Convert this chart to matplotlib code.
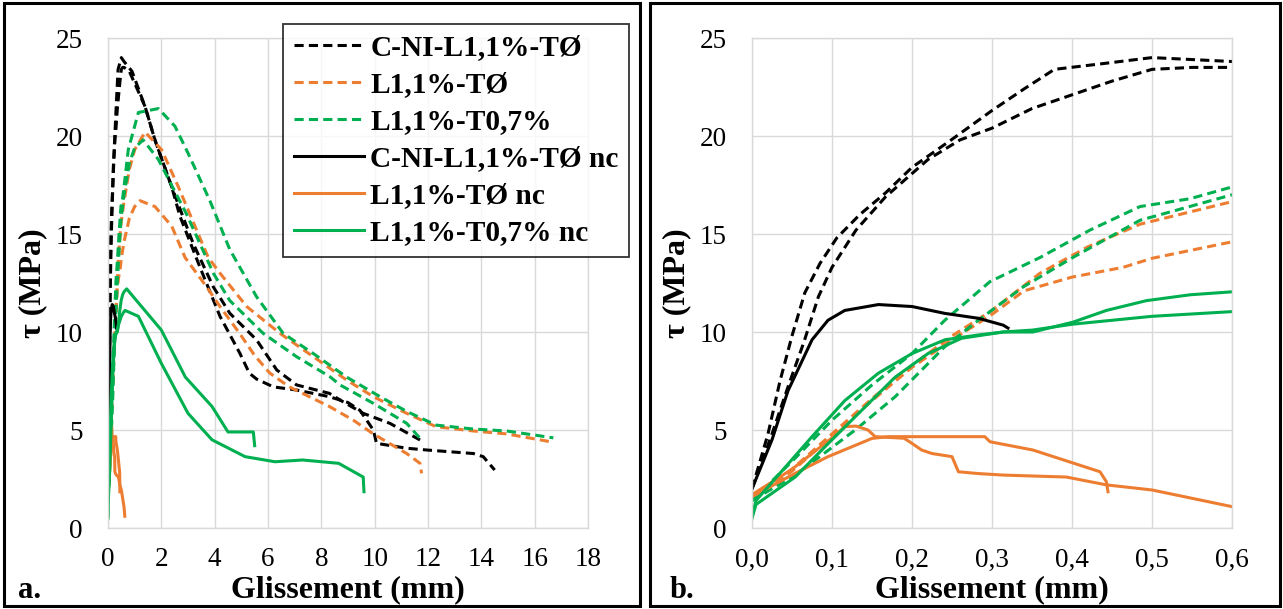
import matplotlib
matplotlib.use("Agg")
import matplotlib.pyplot as plt
from matplotlib.patches import Rectangle
from matplotlib.lines import Line2D

# ---------------- data (slip in mm, bond stress in MPa) ----------------
cni_a_x = [0, 0.02, 0.035, 0.05, 0.066, 0.085, 0.106, 0.135, 0.167, 0.2, 0.249, 0.3, 0.34, 0.378, 0.44, 0.5,
           0.55, 0.6, 0.9, 1.39, 1.76, 2.39, 2.7, 3.45, 4.2, 4.95, 5.3, 5.57, 6.2, 7.07, 8.3, 9.0, 9.45, 9.95,
           10.07, 11.2, 11.95, 13.7, 14.07, 14.5]
cni_a_y = [2.0, 4.8, 7.5, 9.8, 12.0, 13.5, 14.8, 16.0, 17.1, 18.4, 19.8, 21.3, 22.4, 23.4, 23.7, 24.0,
           23.9, 23.8, 23.3, 21.5, 19.8, 17.4, 15.9, 13.3, 10.8, 8.9, 7.9, 7.6, 7.2, 7.04, 6.7, 6.4, 6.0, 5.0,
           4.32, 4.07, 3.98, 3.8, 3.64, 2.96]

cni_b_x = [0, 0.025, 0.045, 0.065, 0.083, 0.1, 0.13, 0.167, 0.22, 0.26, 0.3, 0.35, 0.4, 0.45, 0.5, 0.55, 0.6,
           0.8, 1.39, 1.76, 2.39, 3.0, 3.2, 3.95, 4.57, 5.57, 6.33, 7.07, 8.3, 8.7, 9.57, 10.57, 11.7]
cni_b_y = [2.0, 4.8, 7.2, 9.5, 11.8, 13.3, 15.2, 16.9, 18.8, 19.8, 20.4, 21.4, 22.1, 22.8, 23.4, 23.5, 23.5,
           23.3, 21.5, 19.8, 17.4, 15.2, 14.5, 12.3, 10.95, 9.6, 8.06, 7.3, 6.87, 6.53, 5.85, 5.34, 4.49]

tphi_a_x = [0, 0.05, 0.1, 0.15, 0.2, 0.25, 0.3, 0.36, 0.42, 0.485, 0.6, 0.8, 1.0, 1.39, 2.01, 2.64, 3.26,
            3.76, 4.2, 5.2, 6.45, 7.7, 8.95, 9.95, 11.2, 12.3, 13.7, 14.95, 16.6]
tphi_a_y = [1.5, 3.0, 4.8, 6.6, 8.3, 9.8, 11.1, 13.0, 14.35, 15.5, 16.65, 18.3, 19.3, 20.2, 19.3, 17.4, 15.4,
            13.8, 13.0, 11.3, 9.93, 8.74, 7.55, 6.7, 5.85, 5.17, 4.95, 4.8, 4.4]

tphi_b_x = [0, 0.05, 0.1, 0.15, 0.2, 0.25, 0.3, 0.34, 0.4, 0.464, 0.5, 0.6, 0.8, 1.0, 1.2, 1.76, 2.39, 2.89,
            3.7, 4.2, 4.95, 5.5, 6.07, 6.8, 8.3, 9.2, 9.95, 11.2, 11.7, 11.76]
tphi_b_y = [1.5, 2.9, 4.7, 6.5, 8.2, 9.6, 10.9, 12.1, 12.8, 13.3, 13.76, 14.6, 15.8, 16.4, 16.7, 16.4, 15.4,
            13.8, 12.3, 11.3, 9.9, 8.8, 7.9, 7.2, 6.2, 5.5, 4.8, 3.8, 3.3, 2.79]

t07_a_x = [0, 0.05, 0.1, 0.15, 0.2, 0.241, 0.2975, 0.36, 0.4225, 0.485, 0.5475, 0.6, 0.76, 1.14, 1.89, 2.51,
           3.01, 3.82, 4.57, 5.57, 6.57, 7.7, 8.95, 10.2, 11.2, 12.3, 13.7, 14.95, 16.7]
t07_a_y = [1.4, 3.4, 5.5, 7.3, 8.9, 10.6, 12.57, 13.8, 15.2, 16.4, 16.8, 17.4, 19.3, 21.2, 21.4, 20.5,
           19.1, 16.7, 14.2, 11.8, 9.93, 8.9, 7.7, 6.7, 5.95, 5.25, 5.05, 4.95, 4.6]

t07_b_x = [0, 0.054, 0.129, 0.179, 0.241, 0.283, 0.316, 0.339, 0.401, 0.485, 0.6, 0.8, 1.0, 1.32, 1.89,
           2.95, 3.95, 4.57, 5.82, 7.07, 8.32, 8.7, 9.95, 11.2, 11.76]
t07_b_y = [1.4, 2.7, 5.0, 6.7, 9.25, 10.6, 11.6, 12.3, 13.8, 15.7, 17.0, 18.6, 19.4, 19.8, 18.8,
           16.0, 13.0, 11.6, 9.93, 8.74, 7.72, 7.3, 6.36, 5.34, 4.49]

cni_nc_x = [0, 0.025, 0.045, 0.075, 0.095, 0.116, 0.158, 0.2, 0.241, 0.283, 0.314, 0.32]
cni_nc_y = [2.0, 4.5, 7.0, 9.6, 10.6, 11.1, 11.4, 11.3, 10.95, 10.7, 10.35, 10.2]

tphi_nc_a_x = [0, 0.05, 0.1, 0.116, 0.13, 0.145, 0.154, 0.19, 0.197, 0.212, 0.225, 0.25, 0.258, 0.282,
               0.314, 0.393, 0.443, 0.5, 0.6, 0.63]
tphi_nc_a_y = [1.7, 3.0, 4.6, 5.17, 5.2, 5.0, 4.66, 4.58, 4.4, 3.98, 3.8, 3.64, 2.87, 2.78,
               2.7, 2.6, 2.2, 1.94, 1.09, 0.6]

tphi_nc_b_x = [0, 0.054, 0.095, 0.15, 0.17, 0.291, 0.2975, 0.351, 0.435, 0.443, 0.445]
tphi_nc_b_y = [1.6, 2.79, 3.64, 4.57, 4.66, 4.66, 4.4, 3.98, 2.87, 2.36, 1.85]

t07_nc_a_x = [0, 0.005, 0.075, 0.116, 0.158, 0.2, 0.241, 0.283, 0.314, 0.351, 0.401, 0.443, 0.493, 0.548,
              0.6, 0.7, 2.0, 2.9, 3.9, 4.5, 5.45, 5.5]
t07_nc_a_y = [0.6, 1.4, 4.66, 6.5, 7.9, 8.9, 9.6, 9.85, 10.0, 10.0, 10.5, 11.1, 11.6, 11.9,
              12.05, 12.2, 10.1, 7.7, 6.2, 4.9, 4.9, 4.2]

t07_nc_b_x = [0, 0.005, 0.054, 0.095, 0.137, 0.179, 0.22, 0.262, 0.314, 0.351, 0.401, 0.5, 0.6, 0.64,
              1.14, 2.0, 3.0, 3.9, 5.14, 6.26, 7.3, 8.65, 9.57, 9.6]
t07_nc_b_y = [0.5, 1.2, 2.6, 4.3, 6.0, 7.7, 8.9, 9.68, 10.0, 10.1, 10.4, 10.8, 11.04, 11.1,
              10.8, 8.4, 5.85, 4.5, 3.64, 3.38, 3.47, 3.3, 2.6, 1.85]

labels = ["C-NI-L1,1%-TØ", "L1,1%-TØ", "L1,1%-T0,7%",
          "C-NI-L1,1%-TØ nc", "L1,1%-TØ nc", "L1,1%-T0,7% nc"]

left_xticks = [0, 2, 4, 6, 8, 10, 12, 14, 16, 18]
right_xticks = [0.0, 0.1, 0.2, 0.3, 0.4, 0.5, 0.6]
right_xticklabels = ["0,0", "0,1", "0,2", "0,3", "0,4", "0,5", "0,6"]
yticks = [0, 5, 10, 15, 20, 25]

# ---------------- styling ----------------
BLACK = "#000000"
ORANGE = "#ED7D31"
GREEN = "#00B050"
LW = 2.2
DASH = (3.0, 1.7)
SERIF = ["Liberation Serif", "DejaVu Serif"]
plt.rcParams["font.family"] = SERIF

series = [
    (cni_a_x, cni_a_y, BLACK, True),
    (cni_b_x, cni_b_y, BLACK, True),
    (tphi_a_x, tphi_a_y, ORANGE, True),
    (tphi_b_x, tphi_b_y, ORANGE, True),
    (t07_a_x, t07_a_y, GREEN, True),
    (t07_b_x, t07_b_y, GREEN, True),
    (cni_nc_x, cni_nc_y, BLACK, False),
    (tphi_nc_a_x, tphi_nc_a_y, ORANGE, False),
    (tphi_nc_b_x, tphi_nc_b_y, ORANGE, False),
    (t07_nc_a_x, t07_nc_a_y, GREEN, False),
    (t07_nc_b_x, t07_nc_b_y, GREEN, False),
]

W, H = 1283, 609
fig = plt.figure(figsize=(W / 100, H / 100), dpi=100)

axL = fig.add_axes([108 / W, 1 - 528 / H, 480 / W, 490 / H])
axR = fig.add_axes([752 / W, 1 - 528 / H, 480 / W, 490 / H])

GRID = "#d9d9d9"
for ax in (axL, axR):
    for x, y, c, dashed in series:
        kw = dict(color=c, lw=LW, solid_joinstyle="round", dash_capstyle="butt")
        if dashed:
            kw["linestyle"] = (0, DASH)
        ax.plot(x, y, **kw)
    ax.set_ylim(0, 25)
    ax.set_yticks(yticks)
    ax.grid(True, color=GRID, lw=1.0)
    ax.set_axisbelow(True)
    for s in ax.spines.values():
        s.set_color(GRID)
        s.set_linewidth(1.0)
    ax.tick_params(length=0, labelsize=19.5, pad=18)
    ax.tick_params(axis="x", pad=14)
    ax.set_xlabel("Glissement (mm)", fontsize=23, fontweight="bold", labelpad=2)
    ax.set_ylabel("τ (MPa)", fontsize=23, fontweight="bold", labelpad=6)

axL.set_xlim(0, 18)
axL.set_xticks(left_xticks)
axR.set_xlim(0, 0.6)
axR.set_xticks(right_xticks)
axR.set_xticklabels(right_xticklabels)

# legend
handles = []
for c, ls in [(BLACK, (0, DASH)), (ORANGE, (0, DASH)), (GREEN, (0, DASH)),
              (BLACK, "-"), (ORANGE, "-"), (GREEN, "-")]:
    handles.append(Line2D([], [], color=c, lw=LW, linestyle=ls))
leg = fig.legend(handles, labels, loc="upper right", bbox_to_anchor=(629 / W, 1 - 24 / H),
                 bbox_transform=fig.transFigure, frameon=True, fancybox=False,
                 prop={"family": SERIF, "weight": "bold", "size": 21.2},
                 handlelength=2.4, handletextpad=0.2, labelspacing=0.34,
                 borderpad=0.35, borderaxespad=0)
leg.get_frame().set_edgecolor("black")
leg.get_frame().set_linewidth(1.3)

# panel letters
fig.text(18 / W, 1 - 590 / H, "a.", fontsize=22, fontweight="bold", va="center", ha="left")
fig.text(670 / W, 1 - 590 / H, "b.", fontsize=22, fontweight="bold", va="center", ha="left")

# panel frames
for x0, x1 in [(4, 640), (650, 1280)]:
    fig.add_artist(Rectangle((x0 / W, 3 / H), (x1 - x0) / W, (H - 6) / H,
                             transform=fig.transFigure, fill=False, edgecolor="black", lw=2.2))

fig.savefig("out.png", dpi=100, facecolor="white")
